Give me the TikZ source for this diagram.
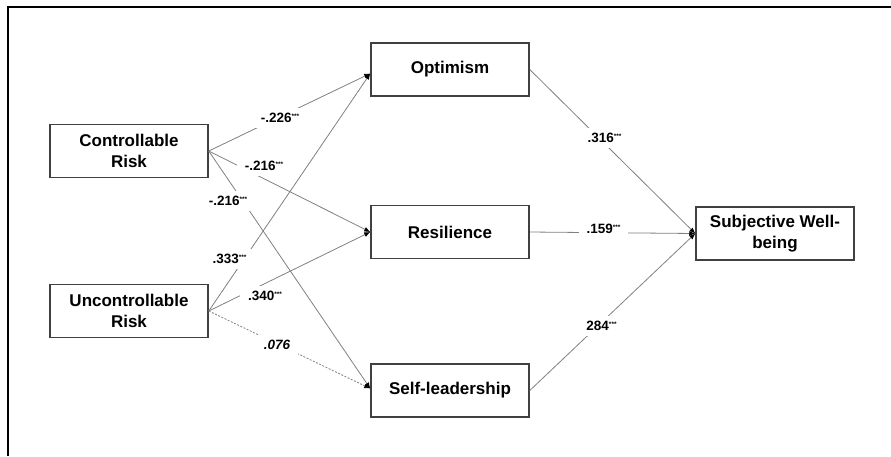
\documentclass[tikz,border=0pt]{standalone}
\usepackage{fontspec}
\setmainfont{Liberation Sans}
\usetikzlibrary{arrows.meta}
\newcommand\sigstars{\raisebox{0.6ex}{\fontsize{6.5}{6.5}\selectfont ***}}
\begin{document}
\begin{tikzpicture}[x=1pt,y=-1pt,
  var/.style={draw=black!75, line width=1.5pt, fill=white,
    minimum width=158pt, minimum height=53pt, inner sep=0pt,
    align=center, font=\fontsize{17}{20.5}\selectfont\bfseries},
  pathline/.style={draw=black!50, line width=0.8pt,
    -{Latex[length=6pt,width=5pt,color=black]}},
  coef/.style={fill=white, inner xsep=8pt, inner ysep=5pt,
    font=\fontsize{13.5}{15}\selectfont\bfseries},
]
\useasboundingbox (0,0) rectangle (891,456);

% outer frame
\draw[line width=1.2pt] (8,456) -- (8,7) -- (891,7);

% variables
\node[var] (cr)  at (129,151)   {Controllable\\Risk};
\node[var] (ur)  at (129,311)   {Uncontrollable\\Risk};
\node[var] (opt) at (450,69.5)  {Optimism};
\node[var] (res) at (450,232)   {Resilience};
\node[var] (sl)  at (450,390.5) {Self-leadership};
\node[var] (swb) at (775,233.5) {Subjective Well-\\being};

% paths
\draw[pathline] (cr.east) -- ([yshift=-4pt]opt.west);
\draw[pathline] (cr.east) -- (res.west);
\draw[pathline] (cr.east) -- ([yshift=2pt]sl.west);
\draw[pathline] (ur.east) -- ([yshift=-4pt]opt.west);
\draw[pathline] (ur.east) -- (res.west);
\draw[pathline, dash pattern=on 2pt off 1.5pt] (ur.east) -- ([yshift=2pt]sl.west);
\draw[pathline] (opt.east) -- (swb.west);
\draw[pathline] (res.east) -- (swb.west);
\draw[pathline] (sl.east) -- (swb.west);

% coefficients
\node[coef] (c1) at (280,118)   {-.226\sigstars};
\node[coef] (c2) at (264,166)   {-.216\sigstars};
\node[coef] (c3) at (228,201)   {-.216\sigstars};
\node[coef] (c4) at (229.5,259) {.333\sigstars};
\node[coef] (c5) at (265,296)   {.340\sigstars};
\node[coef] (c6) at (277,345)   {\itshape .076};
\node[coef] (c7) at (604.5,138) {.316\sigstars};
\node[coef] (c8) at (603.5,229) {.159\sigstars};
\node[coef] (c9) at (601.5,326) {284\sigstars};
\end{tikzpicture}
\end{document}
